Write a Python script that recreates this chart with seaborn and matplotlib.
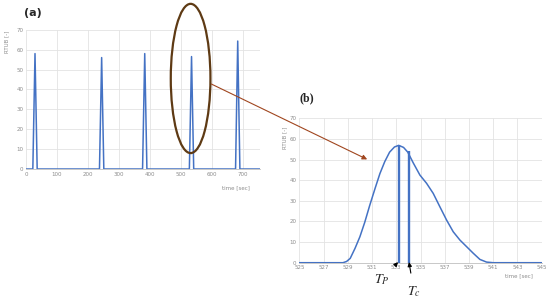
import matplotlib
matplotlib.use("Agg")
import matplotlib.pyplot as plt
import seaborn as sns
import pandas as pd
from matplotlib.patches import Ellipse, ConnectionPatch

# ---- data: panel (a) full record ----
a_time = [0, 22, 29, 36, 237, 244, 251, 376, 383, 390, 527, 534, 541, 676, 683, 690, 755]
a_value = [0, 0, 58, 0, 0, 56, 0, 0, 58, 0, 0, 56.5, 0, 0, 64.3, 0, 0]

# ---- data: panel (b) zoom on one peak ----
b_time = [525, 528.6, 528.9, 529.2, 529.6, 530.0, 530.4, 530.8, 531.25, 531.65, 532.05,
          532.45, 532.85, 533.2, 533.6, 533.95, 534.4, 534.95, 535.5, 536.05, 536.6,
          537.15, 537.7, 538.25, 538.8, 539.35, 539.9, 540.45, 541.0, 545]
b_value = [0, 0, 0.6, 2.1, 7, 12.6, 19.6, 27.6, 36, 43.2, 49,
           53.6, 56.1, 56.9, 55.9, 53.6, 48.4, 42.5, 38.5, 33.6, 27.1,
           20.7, 15, 11, 7.8, 4.6, 1.6, 0.3, 0, 0]
tp_time, tp_top = 533.25, 56.9
tc_time, tc_top = 534.05, 54.0

a_xticks = list(range(0, 701, 100))
b_xticks = list(range(525, 546, 2))
yticks = list(range(0, 71, 10))

sns.set_theme(style="whitegrid")
plt.rcParams['font.family'] = ['DejaVu Sans']
plt.rcParams['mathtext.fontset'] = 'stix'

BLUE = "#4472C4"
GRID = "#e3e3e3"
TICK = "#8c8c8c"

fig = plt.figure(figsize=(5.5, 3.01), dpi=100)
ax_a = fig.add_axes([0.0473, 0.4385, 0.4255, 0.4628])
ax_b = fig.add_axes([0.5442, 0.1272, 0.4407, 0.4797])

dfa = pd.DataFrame({"t": a_time, "v": a_value})
sns.lineplot(data=dfa, x="t", y="v", ax=ax_a, color=BLUE, linewidth=1.1)
dfb = pd.DataFrame({"t": b_time, "v": b_value})
sns.lineplot(data=dfb, x="t", y="v", ax=ax_b, color=BLUE, linewidth=1.1,
             solid_joinstyle='round')
ax_b.plot([tp_time, tp_time], [0, tp_top], color=BLUE, linewidth=1.7, solid_capstyle='butt')
ax_b.plot([tc_time, tc_time], [0, tc_top], color=BLUE, linewidth=1.7, solid_capstyle='butt')

for ax, xt, xl in [(ax_a, a_xticks, (0, 755)), (ax_b, b_xticks, (525, 545))]:
    ax.set_xlim(*xl)
    ax.set_ylim(0, 70)
    ax.set_xticks(xt)
    ax.set_yticks(yticks)
    ax.set_xlabel("")
    ax.set_ylabel("")
    ax.tick_params(axis='both', length=0, labelsize=4, colors=TICK, pad=2)
    ax.grid(True, color=GRID, linewidth=0.6)
    ax.set_facecolor("white")
    for s in ["top", "right", "left"]:
        ax.spines[s].set_visible(False)
    ax.spines["bottom"].set_color("#bfbfbf")
    ax.spines["bottom"].set_linewidth(0.6)

# axis labels
fig.text(7 / 550, 1 - 42 / 301, "RTUB [-]", rotation=90, fontsize=4, color=TICK,
         ha='center', va='center')
fig.text(285 / 550, 1 - 138 / 301, "RTUB [-]", rotation=90, fontsize=4, color=TICK,
         ha='center', va='center')
fig.text(250 / 550, 1 - 188 / 301, "time [sec]", fontsize=4, color=TICK, ha='right', va='center')
fig.text(533 / 550, 1 - 276 / 301, "time [sec]", fontsize=4, color=TICK, ha='right', va='center')

# panel labels
fig.text(33 / 550, 1 - 13 / 301, "(a)", fontsize=8, fontweight='bold', ha='center', va='center')
fig.text(307 / 550, 1 - 98 / 301, "(b)", fontsize=8.5, fontweight='bold',
         family=['Liberation Serif'], ha='center', va='center')

# ellipse around selected peak
ell = Ellipse((531, 45.5), width=128, height=75, fill=False, edgecolor="#5e3a14",
              linewidth=1.6, clip_on=False, zorder=5)
ax_a.add_patch(ell)

# connecting arrow
con = ConnectionPatch(xyA=(598, 42.7), coordsA=ax_a.transData,
                      xyB=(530.6, 50.1), coordsB=ax_b.transData,
                      arrowstyle='-|>', mutation_scale=7, color="#a0461f",
                      linewidth=0.8, zorder=6)
fig.add_artist(con)

# Tp / Tc annotations
ax_b.annotate("$T_P$", xy=(tp_time - 0.1, 0.3), xycoords='data',
              xytext=(381.7 / 550, 1 - 280 / 301), textcoords='figure fraction',
              fontsize=10, ha='center', va='center',
              arrowprops=dict(arrowstyle='-|>', color='black', lw=0.8, mutation_scale=6,
                              shrinkA=5, shrinkB=0),
              annotation_clip=False)
ax_b.annotate("$T_c$", xy=(tc_time, 0.3), xycoords='data',
              xytext=(414 / 550, 1 - 292 / 301), textcoords='figure fraction',
              fontsize=10, ha='center', va='center',
              arrowprops=dict(arrowstyle='-|>', color='black', lw=0.8, mutation_scale=6,
                              shrinkA=6, shrinkB=0),
              annotation_clip=False)

fig.savefig("out.png", dpi=100, facecolor="white")
